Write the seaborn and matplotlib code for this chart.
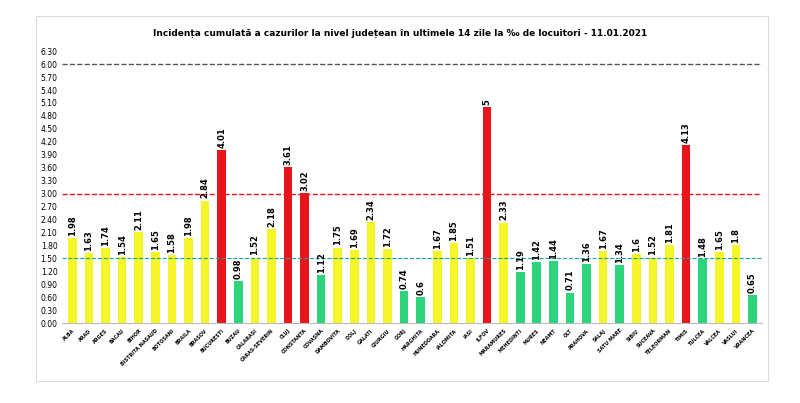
import matplotlib
matplotlib.use("Agg")
import matplotlib.pyplot as plt
import seaborn as sns
import numpy as np

counties = ["ALBA","ARAD","ARGES","BACAU","BIHOR","BISTRITA NASAUD","BOTOSANI","BRAILA","BRASOV","BUCURESTI",
            "BUZAU","CALARASI","CARAS-SEVERIN","CLUJ","CONSTANTA","COVASNA","DAMBOVITA","DOLJ","GALATI","GIURGIU",
            "GORJ","HARGHITA","HUNEDOARA","IALOMITA","IASI","ILFOV","MARAMURES","MEHEDINTI","MURES","NEAMT",
            "OLT","PRAHOVA","SALAJ","SATU MARE","SIBIU","SUCEAVA","TELEORMAN","TIMIS","TULCEA","VALCEA","VASLUI","VRANCEA"]
values = [1.98,1.63,1.74,1.54,2.11,1.65,1.58,1.98,2.84,4.01,0.98,1.52,2.18,3.61,3.02,1.12,1.75,1.69,2.34,1.72,
          0.74,0.6,1.67,1.85,1.51,5,2.33,1.19,1.42,1.44,0.71,1.36,1.67,1.34,1.6,1.52,1.81,4.13,1.48,1.65,1.8,0.65]
labels = ["1.98","1.63","1.74","1.54","2.11","1.65","1.58","1.98","2.84","4.01","0.98","1.52","2.18","3.61","3.02",
          "1.12","1.75","1.69","2.34","1.72","0.74","0.6","1.67","1.85","1.51","5","2.33","1.19","1.42","1.44",
          "0.71","1.36","1.67","1.34","1.6","1.52","1.81","4.13","1.48","1.65","1.8","0.65"]

def col(v):
    if v > 3: return "#e8161b"
    if v >= 1.5: return "#f5f52a"
    return "#2ed47a"
colors = [col(v) for v in values]

fig = plt.figure(figsize=(8, 4.03), dpi=100)
fig.patch.set_facecolor("white")
frame = plt.Rectangle((0.045, 0.055), 0.915, 0.905, transform=fig.transFigure, fill=False, ec="#dddddd", lw=0.8)
fig.patches.append(frame)
ax = fig.add_axes([0.078, 0.198, 0.875, 0.675])
sns.barplot(x=counties, y=values, hue=counties, palette=colors, legend=False, ax=ax, width=0.52, saturation=1)
for i, (v, l) in enumerate(zip(values, labels)):
    ax.text(i, v + 0.05, l, rotation=90, ha="center", va="bottom", fontsize=6, fontweight="bold")
ax.axhline(6.0, color="#555555", ls="--", lw=1)
ax.axhline(3.0, color="#e8161b", ls="--", lw=1)
ax.axhline(1.5, color="#1aa0a0", ls="--", lw=0.8)
ax.set_ylim(0, 6.3)
ax.set_xlim(-0.6, len(counties) - 0.4)
ax.set_yticks(np.arange(0, 6.31, 0.3))
ax.set_yticklabels([f"{t:.2f}" for t in np.arange(0, 6.31, 0.3)], fontsize=5.5)
ax.set_xticks(range(len(counties)))
ax.set_xticklabels(counties, rotation=45, ha="right", rotation_mode="anchor", fontsize=3.5, fontweight="bold")
ax.tick_params(length=0)
for s in ["top", "right", "left"]:
    ax.spines[s].set_visible(False)
ax.spines["bottom"].set_color("#bbbbbb")
ax.set_xlabel(""); ax.set_ylabel("")
fig.text(0.5, 0.912, "Incidența cumulată a cazurilor la nivel județean în ultimele 14 zile la ‰ de locuitori - 11.01.2021",
         ha="center", fontsize=6.5, fontweight="bold")
fig.savefig("out.png", dpi=100)
